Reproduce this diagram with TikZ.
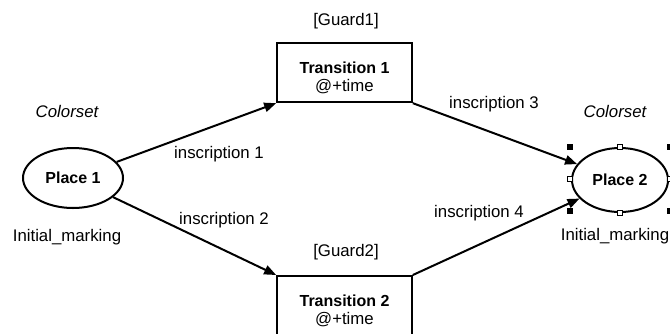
\documentclass[tikz,border=0pt]{standalone}
\usepackage{fontspec}
\setmainfont{Liberation Sans}
\usetikzlibrary{shapes.geometric,arrows.meta}
\begin{document}
\begin{tikzpicture}[x=0.75pt,y=-0.75pt,
  every node/.style={font=\fontsize{12.6}{14}\selectfont},
  place/.style={draw,ellipse,line width=1.5pt,inner sep=0pt,font=\fontsize{12}{14}\selectfont\bfseries},
  trans/.style={draw,rectangle,line width=1.5pt,minimum width=101pt,minimum height=44.5pt,inner sep=0pt,align=center,font=\fontsize{12}{14}\selectfont},
  arc/.style={line width=1.5pt,-{Triangle[length=9pt,width=7pt]}},
  lbl/.style={inner sep=0pt},
  handle/.style={fill=black,minimum size=4.2pt,inner sep=0pt,rectangle},
  mhandle/.style={draw=black,fill=white,line width=0.8pt,minimum size=3.6pt,inner sep=0pt,rectangle}]
\useasboundingbox (0,0) rectangle (670,333);
\node[place,minimum width=75pt,minimum height=45pt] (p1) at (73,178) {Place 1};
\node[place,minimum width=72pt,minimum height=48pt] (p2) at (620,180) {Place 2};
\node[trans] (t1) at (344.5,72.5) {\rule{0pt}{17pt}\textbf{Transition 1}\\[-0.5pt]{\fontsize{12.6}{14}\selectfont @+time}};
\node[trans,anchor=north] (t2) at (344.5,275) {\rule{0pt}{16pt}\textbf{Transition 2}\\[-0.5pt]{\fontsize{12.6}{14}\selectfont @+time}};
\node[lbl,font=\fontsize{12.6}{14}\selectfont\itshape] (c1) at (67,111) {Colorset};
\node[lbl,font=\fontsize{12.6}{14}\selectfont\itshape] (c2) at (615,111) {Colorset};
\node[lbl] (m1) at (67,237) {Initial\_marking};
\node[lbl] (m2) at (615,236) {Initial\_marking};
\node[lbl] (g1) at (346,21) {[Guard1]};
\node[lbl] (g2) at (346,252) {[Guard2]};
\node[lbl] (i1) at (219,154) {inscription 1};
\node[lbl] (i2) at (224,220) {inscription 2};
\node[lbl] (i3) at (494,104) {inscription 3};
\node[lbl] (i4) at (479,213) {inscription 4};
\draw[arc] (p1) -- (t1.south west);
\draw[arc] (p1) -- (t2.north west);
\draw[arc] (t1.south east) -- (p2);
\draw[arc] (t2.north east) -- (p2);
\node[handle] (h1) at (570,147) {};
\node[mhandle] (h2) at (p2.north) {};
\node[handle] (h3) at (670,147) {};
\node[mhandle] (h4) at (570,179) {};
\node[mhandle] (h5) at (670,179) {};
\node[handle] (h6) at (570,211) {};
\node[mhandle] (h7) at (p2.south) {};
\node[handle] (h8) at (670,211) {};
\end{tikzpicture}
\end{document}
